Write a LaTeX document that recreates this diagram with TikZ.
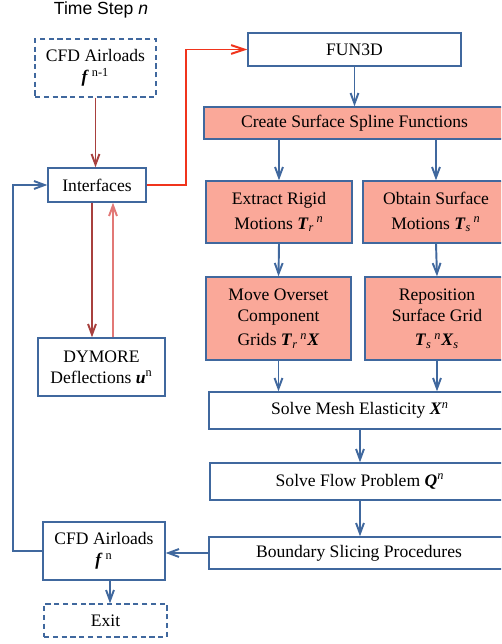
\documentclass[tikz,border=0pt]{standalone}
\usepackage{amsmath}
\usepackage{fontspec}
\setmainfont{Liberation Serif}
\newfontfamily\titlefont{Liberation Sans}
\usetikzlibrary{arrows.meta,shadows,calc}
\definecolor{boxblue}{RGB}{64,104,158}
\definecolor{salmon}{RGB}{250,168,153}
\definecolor{darkred}{RGB}{168,64,62}
\definecolor{lightred}{RGB}{226,120,118}
\definecolor{brightred}{RGB}{240,52,28}
\newcommand{\bi}[1]{\textbf{\textit{#1}}}
\begin{document}
\begin{tikzpicture}[x=0.02cm,y=-0.02cm,
  font=\fontsize{10}{12}\selectfont,
  box/.style={draw=boxblue, line width=0.8pt, fill=white, align=center, inner sep=0pt,
    drop shadow={shadow xshift=0.8pt,shadow yshift=-0.8pt,opacity=0.18}},
  pinkbox/.style={box, fill=salmon},
  dbox/.style={draw=boxblue, line width=0.8pt, dash pattern=on 3pt off 2pt, fill=white, align=center, inner sep=0pt},
  barr/.style={draw=boxblue, line width=1.1pt, -{Straight Barb[length=6pt,width=4.5pt]}},
  drarr/.style={draw=darkred, line width=1.1pt, -{Straight Barb[length=6pt,width=4.5pt]}},
  lrarr/.style={draw=lightred, line width=1.1pt, -{Straight Barb[length=6pt,width=4.5pt]}},
  brarr/.style={draw=brightred, line width=1.1pt, -{Straight Barb[length=7.5pt,width=5pt]}}
]
\useasboundingbox (0,0) rectangle (501,644);
\clip (0,0) rectangle (501,644);

\node[font=\titlefont\fontsize{10}{12}\selectfont] (title) at (101,10) {Time Step \textit{n}};

% left column
\node[dbox, minimum width=2.42cm, minimum height=1.16cm] (cfdold) at (95.5,68) {CFD Airloads\\\bi{f}\,\textsuperscript{n-1}};
\node[box, minimum width=1.96cm, minimum height=0.68cm] (intf) at (97,185) {Interfaces};
\node[box, minimum width=2.54cm, minimum height=1.16cm] (dym) at (101.5,367) {DYMORE\\Deflections \bi{u}\textsuperscript{n}};
\node[box, minimum width=2.44cm, minimum height=1.16cm] (cfdn) at (104,551) {CFD Airloads\\\bi{f}\,\textsuperscript{n}};
\node[dbox, minimum width=2.46cm, minimum height=0.66cm] (exit) at (105.5,620.5) {Exit};

% right column
\node[box, minimum width=4.26cm, minimum height=0.66cm] (fun) at (354.5,49.5) {FUN3D};
\node[pinkbox, minimum width=6.02cm, minimum height=0.64cm] (css) at (354.5,123) {Create Surface Spline Functions};
\node[pinkbox, minimum width=2.92cm, minimum height=1.24cm] (ext) at (279,212) {Extract Rigid\\[2pt]Motions \bi{T}$_{\textit{r}}{}^{\,\textit{n}}$};
\node[pinkbox, minimum width=2.92cm, minimum height=1.24cm] (obt) at (436,212) {Obtain Surface\\[2pt]Motions \bi{T}$_{\textit{s}}{}^{\,\textit{n}}$};
\node[pinkbox, minimum width=2.90cm, minimum height=1.66cm] (mov) at (278.5,318.5) {Move Overset\\Component\\[2pt]Grids \bi{T}$_{\textit{r}}{}^{\,\textit{n}}$\bi{X}};
\node[pinkbox, minimum width=2.88cm, minimum height=1.66cm] (rep) at (437,318.5) {Reposition\\Surface Grid\\[2pt]\bi{T}$_{\textit{s}}{}^{\,\textit{n}}$\bi{X}$_{\textit{s}}$};
\node[box, minimum width=6.04cm, minimum height=0.74cm] (mesh) at (360,410.5) {Solve Mesh Elasticity \bi{X}$^{\textit{n}}$};
\node[box, minimum width=6.00cm, minimum height=0.74cm] (flow) at (360,481.5) {Solve Flow Problem \bi{Q}$^{\textit{n}}$};
\node[box, minimum width=6.00cm, minimum height=0.64cm] (bnd) at (359,553) {Boundary Slicing Procedures};

\coordinate (loop) at (13,0);
\coordinate (redx) at (186,0);

% connectors left
\draw[drarr] (cfdold.south) -- (cfdold.south |- intf.north);
\draw[drarr] ([xshift=-0.1cm]intf.south) -- ([xshift=-0.1cm]intf.south |- dym.north);
\draw[lrarr] ([xshift=0.32cm]intf.south |- dym.north) -- ([xshift=0.32cm]intf.south);
\draw[brarr] (intf.east) -- (intf.east -| redx) |- (fun.west);
\draw[barr] (cfdn.west) -- (cfdn.west -| loop) |- (intf.west);
\draw[barr] ([xshift=0.12cm]cfdn.south) -- ([xshift=0.12cm]cfdn.south |- exit.north);

% connectors right
\draw[barr] (fun.south) -- (css.north);
\draw[barr] (css.south -| ext.north) -- (ext.north);
\draw[barr] (css.south -| obt.north) -- (obt.north);
\draw[barr] (ext.south) -- (mov.north);
\draw[barr] (obt.south) -- (rep.north);
\draw[barr] (mov.south) -- (mov.south |- mesh.north);
\draw[barr] (rep.south) -- (rep.south |- mesh.north);
\draw[barr] (mesh.south) -- (flow.north);
\draw[barr] (flow.south) -- (flow.south |- bnd.north);
\draw[barr] (bnd.west) -- (bnd.west -| cfdn.east);
\end{tikzpicture}
\end{document}
